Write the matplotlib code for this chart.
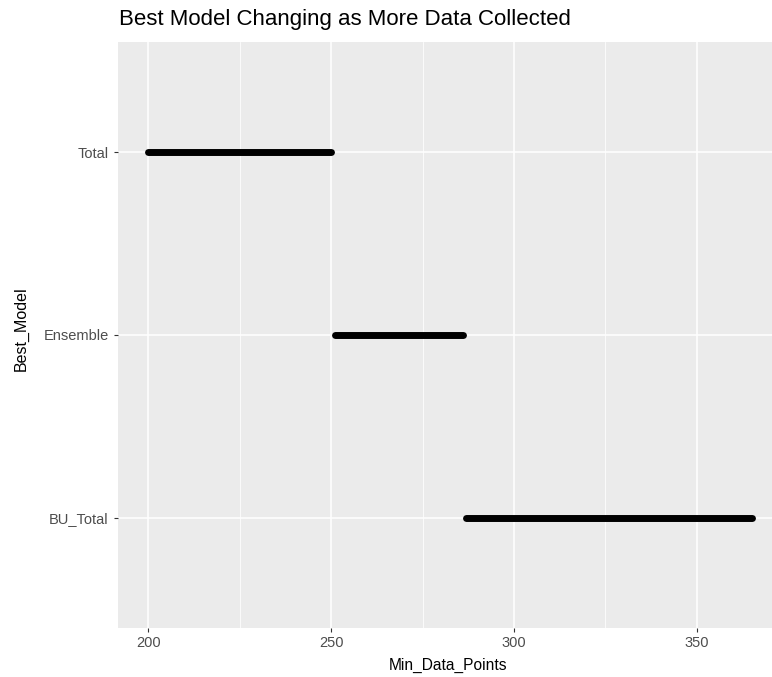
import matplotlib
matplotlib.use("Agg")
import matplotlib.pyplot as plt
from matplotlib.ticker import MultipleLocator

plt.rcParams['font.family'] = ['Liberation Sans', 'DejaVu Sans']

# Best model for each range of minimum data points
models = ["BU_Total", "Ensemble", "Total"]
range_start = [287, 251, 200]
range_end = [365, 286, 250]

x_ticks = [200, 250, 300, 350]

W, H = 772, 677
fig = plt.figure(figsize=(W / 100, H / 100), dpi=100)
fig.patch.set_facecolor("white")

# panel in pixel coordinates (extends slightly past the right edge)
left, right, top, bottom = 118, 782, 42.2, 627.8
ax = fig.add_axes([left / W, 1 - bottom / H, (right - left) / W, (bottom - top) / H])
ax.set_facecolor("#EBEBEB")

xmin, xmax = min(range_start), max(range_end)
pad = (xmax - xmin) * 0.05
ax.set_xlim(xmin - pad, xmax + pad)
ax.set_ylim(0.4, len(models) + 0.6)

ypos = list(range(1, len(models) + 1))
ax.set_yticks(ypos)
ax.set_yticklabels(models)
ax.set_xticks(x_ticks)
ax.xaxis.set_minor_locator(MultipleLocator(25))

ax.grid(which="major", color="white", linewidth=1.1)
ax.grid(which="minor", axis="x", color="white", linewidth=0.55)
ax.set_axisbelow(True)
for s in ax.spines.values():
    s.set_visible(False)

ax.tick_params(which="major", length=3.2, width=0.8, color="#333333",
               labelcolor="#4D4D4D", labelsize=10.5)
ax.tick_params(axis="y", pad=3.5)
ax.tick_params(axis="x", pad=3)
ax.tick_params(which="minor", length=0)

lc = ax.hlines(ypos, range_start, range_end, colors="black", linewidth=5.0)
lc.set_capstyle("round")

ax.set_xlabel("Min_Data_Points", fontsize=11.2, color="black", va="center")
ax.xaxis.set_label_coords(0.497, (bottom - 665) / (bottom - top))
ax.set_ylabel("Best_Model", fontsize=11.5, color="black", va="center")
ax.yaxis.set_label_coords((21 - left) / (right - left), 0.51)

fig.text(119 / W, 1 - 20 / H, "Best Model Changing as More Data Collected",
         fontsize=16, color="black", ha="left", va="center")

fig.savefig("out.png", dpi=100)
